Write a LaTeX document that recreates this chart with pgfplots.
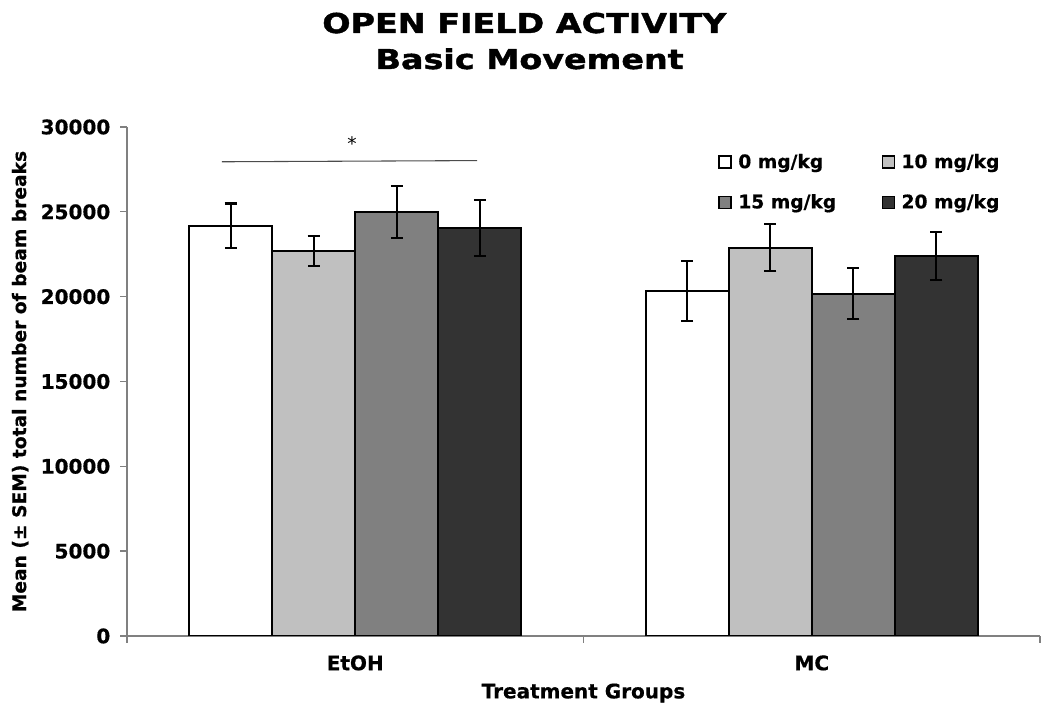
\documentclass[border=0pt]{standalone}
\usepackage{fontspec}
\setmainfont{DejaVu Sans}
\newfontfamily\titlefont{DejaVu Sans Bold}[FakeStretch=1.22, FakeBold=1.5]
\newfontfamily\heavyfont{DejaVu Sans Bold}[FakeBold=0.6]
\usepackage{pgfplots}
\pgfplotsset{compat=1.18}
\definecolor{cA}{HTML}{FFFFFF}
\definecolor{cB}{HTML}{C0C0C0}
\definecolor{cC}{HTML}{808080}
\definecolor{cD}{HTML}{333333}
\definecolor{axgray}{HTML}{808080}
\begin{document}
\begin{tikzpicture}[font=\fontsize{14}{17}\selectfont\heavyfont]
\useasboundingbox (-95.25pt,-63pt) rectangle (692.25pt,477pt);
\begin{axis}[
  at={(0pt,0pt)}, anchor=south west,
  scale only axis,
  width=684.75pt, height=381.75pt,
  xmin=-0.5, xmax=1.5,
  ymin=0, ymax=30000,
  ytick={0,5000,...,30000},
  scaled y ticks=false,
  /pgf/number format/assume math mode=true,
  /pgf/number format/set thousands separator={},
  yticklabel style={font=\fontsize{15}{18}\selectfont\heavyfont, xshift=-4pt},
  xtick={-0.5,0.5,1.5},
  xticklabels={},
  extra x ticks={0,1},
  extra x tick labels={EtOH,MC},
  extra x tick style={major tick length=0pt, xticklabel style={yshift=-11pt, font=\fontsize{15}{18}\selectfont\heavyfont}},
  axis x line*=bottom,
  axis y line*=left,
  axis line style={draw=axgray, line width=1pt},
  tick style={draw=axgray, line width=1pt},
  tick align=outside,
  major tick length=5pt,
  ybar=0pt,
  bar width=62.25pt,
  xlabel={Treatment Groups},
  ylabel={Mean (± SEM) total number of beam breaks},
  xlabel style={at={(axis description cs:0.5,-0.112)}, anchor=center, font=\fontsize{15}{18}\selectfont\heavyfont},
  ylabel style={at={(axis description cs:-0.117,0.5)}, anchor=center, font=\fontsize{14}{17}\selectfont\heavyfont},
  every axis plot/.append style={draw=black, line width=1.5pt},
  error bars/error bar style={line width=1.6pt, black},
  error bars/error mark options={rotate=90, mark size=4.5pt, line width=1.6pt, black},
  legend columns=2,
  legend cell align=left,
  legend style={at={(0.643,0.958)}, anchor=north west, draw=none, fill=none,
    font=\fontsize{14}{17}\selectfont\heavyfont,
    /tikz/every even column/.append style={column sep=32pt},
    /tikz/every odd column/.append style={column sep=3pt},
    row sep=14pt},
  legend image code/.code={\draw[#1, draw=black, line width=1pt] (0pt,-4.5pt) rectangle (9pt,4.5pt);},
]
\addplot[fill=cA, error bars/.cd, y dir=both, y explicit] coordinates {(0,24180) +- (0,1310) (1,20350) +- (0,1770)};
\addplot[fill=cB, error bars/.cd, y dir=both, y explicit] coordinates {(0,22690) +- (0,900) (1,22880) +- (0,1390)};
\addplot[fill=cC, error bars/.cd, y dir=both, y explicit] coordinates {(0,24990) +- (0,1550) (1,20170) +- (0,1500)};
\addplot[fill=cD, error bars/.cd, y dir=both, y explicit] coordinates {(0,24060) +- (0,1650) (1,22390) +- (0,1420)};
\legend{0 mg/kg, 10 mg/kg, 15 mg/kg, 20 mg/kg}
\addplot[forget plot, sharp plot, draw=black!70, line width=0.8pt, mark=none] coordinates {(-0.292,27950) (0.267,28020)};
\node[font=\fontsize{14}{17}\selectfont\mdseries\rmfamily] at (axis cs:-0.007,29000) {*};
\end{axis}
\node[anchor=base, font=\fontsize{20.5}{24}\selectfont\titlefont] at (298pt,452.25pt) {OPEN FIELD ACTIVITY};
\node[anchor=base, font=\fontsize{20.5}{24}\selectfont\titlefont] at (302pt,425.25pt) {Basic Movement};
\end{tikzpicture}
\end{document}
